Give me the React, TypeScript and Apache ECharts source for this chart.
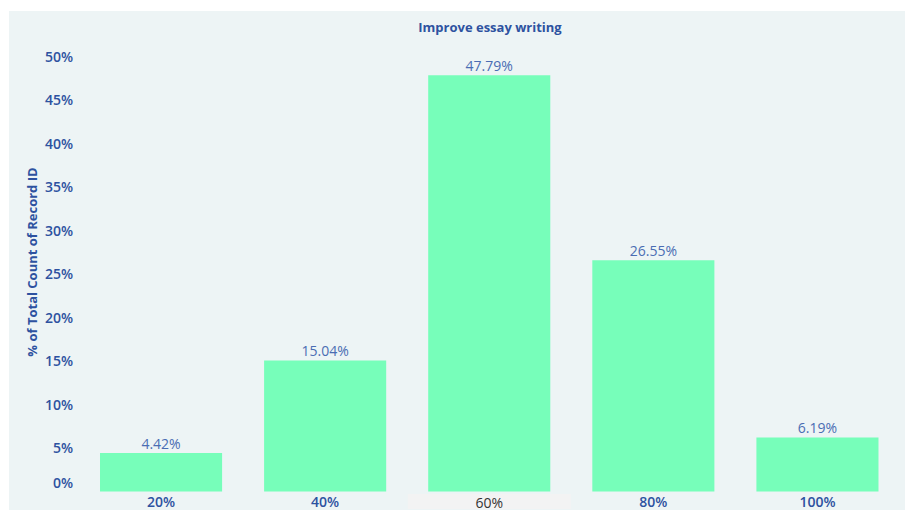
import React, { useEffect, useRef } from "react";
import * as echarts from "echarts";

const categories = ["20%", "40%", "60%", "80%", "100%"];
const values = [4.42, 15.04, 47.79, 26.55, 6.19];
const highlighted = "60%";
const titleText = "Improve essay writing";
const yAxisTitle = "% of Total Count of Record ID";

const BLUE = "#2d52a0";
const FONT = "'Open Sans', Lato, 'Noto Sans', sans-serif";

export default function App() {
  const ref = useRef<HTMLDivElement>(null);
  useEffect(() => {
    const chart = echarts.init(ref.current!, null, { renderer: "svg" });
    chart.setOption({
      animation: false,
      backgroundColor: "#ffffff",
      graphic: [
        { type: "rect", z: -10, silent: true, shape: { x: 9, y: 11, width: 896, height: 499 }, style: { fill: "#edf4f5" } },
        {
          type: "text",
          x: 490,
          y: 27,
          style: { text: titleText, fill: BLUE, font: `bold 13px ${FONT}`, align: "center", verticalAlign: "middle" },
        },
        {
          type: "text",
          x: 32,
          y: 262,
          rotation: Math.PI / 2,
          style: { text: yAxisTitle, fill: BLUE, font: `bold 13px ${FONT}`, align: "center", verticalAlign: "middle" },
        },
      ],
      grid: { left: 79, right: 5.5, top: 56, bottom: 18.5, containLabel: false, outerBoundsMode: "none" },
      xAxis: {
        type: "category",
        data: categories,
        axisLine: { show: false },
        axisTick: { show: false },
        axisLabel: {
          margin: 3,
          fontFamily: FONT,
          fontSize: 14,
          lineHeight: 14,
          fontWeight: 600,
          color: BLUE,
          formatter: (v: string) => (v === highlighted ? `{hl|${v}}` : v),
          rich: {
            hl: {
              color: "#333333",
              fontWeight: "normal",
              fontSize: 14,
              lineHeight: 14,
              fontFamily: FONT,
              backgroundColor: "#f3f3f3",
              width: 163,
              align: "center",
              padding: [1, 0, 0, 0],
            },
          },
        },
      },
      yAxis: {
        type: "value",
        min: 0,
        max: 50,
        interval: 5,
        splitLine: { show: false },
        axisLine: { show: false },
        axisTick: { show: false },
        axisLabel: {
          margin: 6,
          fontFamily: FONT,
          fontSize: 14,
          fontWeight: 600,
          color: BLUE,
          formatter: (v: number) => (v === 0 ? `{zero|0%}` : `${v}%`),
          rich: {
            zero: { fontFamily: FONT, fontSize: 14, fontWeight: 600, color: BLUE, padding: [0, 0, 18, 0] },
          },
        },
      },
      series: [
        {
          type: "bar",
          data: values,
          barCategoryGap: "25.6%",
          itemStyle: { color: "#77feba" },
          label: {
            show: true,
            position: "top",
            distance: 3,
            formatter: (p: any) => `${p.value.toFixed(2)}%`,
            fontFamily: FONT,
            fontSize: 14,
            color: "#4a6db3",
          },
        },
      ],
    });
    return () => chart.dispose();
  }, []);
  return <div ref={ref} style={{ position: "fixed", left: 0, top: 0, width: 905, height: 510 }} />;
}
